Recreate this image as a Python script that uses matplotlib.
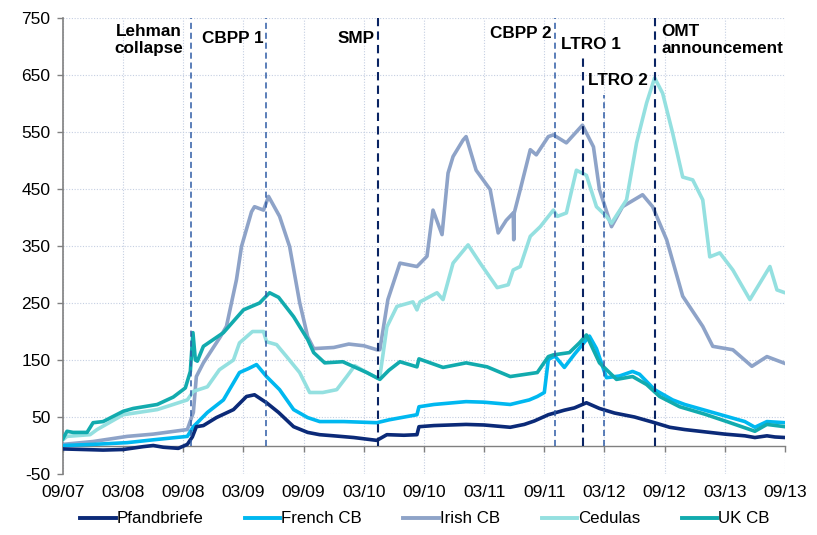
import matplotlib
matplotlib.use("Agg")
import matplotlib.pyplot as plt
from matplotlib.lines import Line2D

plt.rcParams['font.family'] = ['Liberation Sans', 'DejaVu Sans']
plt.rcParams['axes.unicode_minus'] = False

# x positions are months since 09/07
tick_pos = [0, 6, 12, 18, 24, 30, 36, 42, 48, 54, 60, 66, 72]
tick_lbl = ['09/07', '03/08', '09/08', '03/09', '09/09', '03/10', '09/10',
            '03/11', '09/11', '03/12', '09/12', '03/13', '09/13']

pf_m = [0, 2, 4, 6, 8, 9, 10, 11.5, 12.4, 12.9, 13.3, 14, 15.3, 17, 18.3, 19.1,
        20.3, 21.5, 23, 24.4, 25.6, 27, 29, 31.3, 32.3, 34, 35.3, 35.5, 37, 40.2,
        42, 44.6, 46, 47, 48.4, 50, 51, 52.2, 53.5, 55, 57, 59, 60.5, 62, 64, 66,
        68, 69, 70.2, 71, 72]
pf_v = [-6, -7, -8, -7, -2, 0, -3, -5, 2, 15, 33, 35, 49, 63, 86, 89,
        75, 58, 33, 23, 19, 17, 14, 9, 19, 18, 19, 33, 35, 37,
        36, 32, 37, 43, 54, 62, 66, 75, 65, 57, 50, 40, 32, 28, 24, 20,
        17, 14, 17, 15, 14]

fr_m = [0, 3, 6.4, 9, 12.4, 13, 14.4, 16, 17.6, 18.5, 19.3, 20.3, 21.6, 23, 24.4,
        25.6, 28, 31.3, 32.5, 35.3, 35.5, 37, 40.2, 42, 44.6, 46.5, 47.3, 48, 48.4,
        49.05, 50.0, 51, 52.5, 53.2, 54.2, 55.5, 56.8, 57.5, 59, 60.8, 62, 64, 66.2,
        68, 69, 70.2, 72]
fr_v = [0, 2, 5, 10, 16, 33, 58, 80, 128, 135, 142, 121, 98, 63, 49,
        42, 42, 40, 45, 54, 68, 72, 77, 76, 72, 80, 86, 93, 151,
        157, 137, 160, 192, 170, 119, 122, 130, 125, 98, 80, 72, 62, 51,
        42, 32, 42, 40]

ir_m = [0, 3, 6.4, 9, 12.4, 13, 13.3, 14, 15.7, 16.3, 17.3, 17.8, 18.8, 19.1, 20,
        20.5, 21.6, 22.6, 23.6, 24.4, 25, 27, 28.5, 30, 31.3, 31.6, 32.4, 33.6, 35.3,
        36.3, 36.9, 37.8, 38.4, 38.9, 39.9, 40.2, 41.2, 42.6, 43.4, 44.2, 44.9, 44.95,
        45.0, 45.6, 46.6, 47.2, 48.4, 48.9, 50.2, 51.8, 52.9, 53.5, 54.7, 55.8, 57.8,
        58.8, 60.2, 61.8, 63.8, 64.8, 66.8, 68.7, 70.2, 72]
ir_v = [2, 7, 16, 20, 28, 58, 121, 145, 191, 209, 291, 349, 410, 419, 413,
        437, 402, 349, 251, 191, 170, 172, 178, 175, 168, 168, 256, 320, 314,
        332, 413, 370, 478, 507, 536, 542, 483, 449, 373, 395, 408, 361,
        408, 449, 519, 510, 542, 545, 531, 562, 524, 449, 384, 419, 440,
        419, 361, 262, 209, 174, 168, 139, 156, 144]

ce_m = [0, 0.4, 2.7, 3.4, 6, 9.4, 12.4, 13, 14.4, 15.6, 17, 17.6, 18.9, 20, 20.3,
        21.3, 22.3, 23.6, 24.6, 25.9, 27.3, 28.3, 29.1, 30.3, 31.4, 31.6, 32.3, 33.3,
        34.9, 35.3, 35.6, 37.3, 37.9, 38.9, 40.4, 41.6, 43.3, 44.4, 44.9, 45.6, 46.6,
        47.6, 48.9, 49.3, 50.2, 51.2, 52.2, 53.2, 54.2, 54.7, 56.2, 57.2, 58.2, 59,
        59.8, 60.8, 61.8, 62.8, 63.8, 64.5, 65.5, 66.8, 68.5, 70.5, 71.2, 72]
ce_v = [10, 16, 19, 28, 54, 63, 80, 95, 103, 133, 150, 180, 200, 200, 182,
        177, 156, 128, 93, 93, 98, 121, 140, 128, 118, 121, 208, 244,
        252, 238, 252, 268, 256, 320, 352, 320, 277, 282, 308, 314, 367,
        384, 413, 402, 408, 483, 474, 419, 402, 390, 431, 531, 601, 645,
        618, 548, 471, 466, 431, 331, 338, 308, 256, 314, 273, 268]

uk_m = [0, 0.4, 1, 2.4, 3, 4, 6, 7, 9.4, 11, 12.2, 12.7, 12.96, 13.2, 13.4, 14, 16,
        18, 19.6, 20.6, 21.5, 23, 24.4, 25, 26.1, 27.9, 30.3, 31.6, 32.5, 33.6, 35.3,
        35.5, 37.9, 40.2, 42.3, 44.6, 47.3, 48.4, 48.9, 50.5, 51.5, 52.2, 53.5, 55.2,
        56.8, 58.2, 59.5, 61.5, 64, 66.2, 69, 70.2, 72]
uk_v = [12, 25, 23, 23, 40, 42, 60, 65, 72, 85, 101, 130, 198, 150, 148, 174, 198,
        238, 250, 268, 260, 226, 186, 163, 145, 147, 128, 116, 132, 147, 138,
        152, 137, 145, 138, 121, 128, 156, 159, 163, 180, 194, 145, 116,
        121, 107, 86, 68, 55, 42, 25, 37, 33]

ev_names = ['Lehman\ncollapse', 'CBPP 1', 'SMP', 'CBPP 2', 'LTRO 1', 'LTRO 2',
            'OMT\nannouncement']
ev_month = [12.8, 20.2, 31.4, 49.05, 51.9, 54.0, 59.0]
ev_top = [750, 750, 750, 750, 680, 615, 750]
ev_dark = [False, False, True, False, True, False, True]
# label anchor (month, value, alignment)
lbl_x = [8.6, 13.9, 27.4, 42.6, 49.7, 52.4, 59.7]
lbl_y = [740, 727, 727, 736, 717, 654, 740]
lbl_ha = ['center', 'left', 'left', 'left', 'left', 'left', 'left']

fig = plt.figure(figsize=(8.17, 5.35), dpi=100)
ax = fig.add_axes([0.0771, 0.114, 0.8837, 0.8523])

grid_c = '#c5cfe2'
for gx in tick_pos:
    ax.axvline(gx, color=grid_c, lw=0.8, ls=(0, (1, 1.5)), zorder=0)
for gy in range(-50, 751, 100):
    ax.axhline(gy, color=grid_c, lw=0.8, ls=(0, (1, 1.5)), zorder=0)

series = [
    ('Irish CB', ir_m, ir_v, '#8ea3c8'),
    ('Cedulas', ce_m, ce_v, '#94e0e0'),
    ('French CB', fr_m, fr_v, '#00b8f0'),
    ('UK CB', uk_m, uk_v, '#12abae'),
    ('Pfandbriefe', pf_m, pf_v, '#0b2a78'),
]
handles = {}
for name, xm, yv, col in series:
    ln, = ax.plot(xm, yv, color=col, lw=2.6, solid_joinstyle='round', zorder=3)
    handles[name] = ln

for i in range(len(ev_names)):
    col = '#0a2463' if ev_dark[i] else '#2e5ba5'
    lw = 1.5 if ev_dark[i] else 1.1
    ax.plot([ev_month[i], ev_month[i]], [0, ev_top[i]], color=col, lw=lw,
            ls=(0, (4, 2.5)), zorder=4)
    ax.text(lbl_x[i], lbl_y[i], ev_names[i], ha=lbl_ha[i], va='top',
            fontsize=12.3, fontweight='bold', color='black', linespacing=1.15,
            zorder=5)

ax.set_xlim(0, 72)
ax.set_ylim(-50, 750)
ax.set_yticks(range(-50, 751, 100))
ax.set_xticks(tick_pos)
ax.set_xticklabels(tick_lbl)

ax.spines['top'].set_visible(False)
ax.spines['right'].set_visible(False)
ax.spines['left'].set_color('#808080')
ax.spines['left'].set_linewidth(1.2)
ax.spines['bottom'].set_position(('data', 0))
ax.spines['bottom'].set_color('#808080')
ax.spines['bottom'].set_linewidth(1.0)

ax.tick_params(axis='y', direction='out', length=4, width=1, color='#808080',
               labelsize=12.5, pad=5)
ax.tick_params(axis='x', direction='out', length=4.5, width=1, color='#808080',
               labelsize=12.5, pad=24)

order = ['Pfandbriefe', 'French CB', 'Irish CB', 'Cedulas', 'UK CB']
leg_h = [Line2D([], [], color=handles[n].get_color(), lw=2.8) for n in order]
fig.legend(leg_h, order, loc='center', bbox_to_anchor=(0.52, 0.03), ncol=5,
           frameon=False, fontsize=12.2, handlelength=2.1, handletextpad=0.05,
           columnspacing=2.45)

fig.savefig('out.png', dpi=100)
